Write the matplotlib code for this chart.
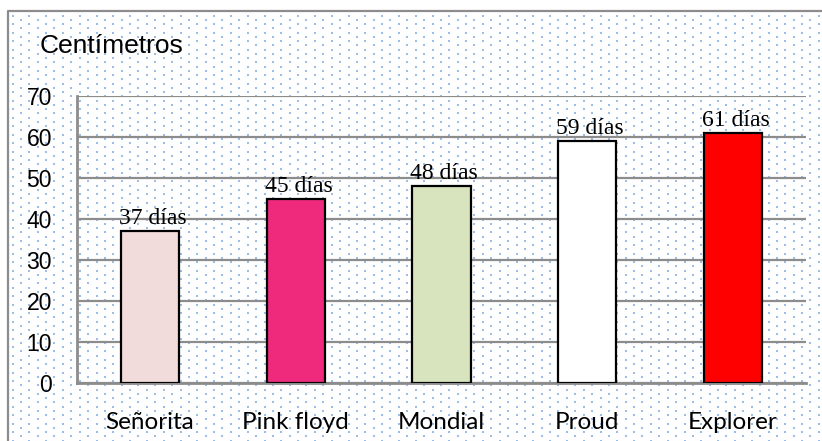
import matplotlib
matplotlib.use('Agg')
import matplotlib.pyplot as plt
import numpy as np

# datos del grafico
variedades = ['Señorita', 'Pink floyd', 'Mondial', 'Proud', 'Explorer']
altura_cm = [37, 45, 48, 59, 61]
dias = ['37 días', '45 días', '48 días', '59 días', '61 días']
colores = ['#f2dcdb', '#ef2a7d', '#d7e4bd', '#ffffff', '#ff0000']
y_ticks = [0, 10, 20, 30, 40, 50, 60, 70]

W, H = 822, 441
fig = plt.figure(figsize=(W / 100, H / 100), dpi=100)

# fondo punteado con marco, en coordenadas de pixel
bg = fig.add_axes([0, 0, 1, 1], zorder=0)
bg.set_xlim(0, W)
bg.set_ylim(H, 0)
bg.axis('off')
filas = np.arange(15.5, H, 4.25)
px, py = [], []
for i, yy in enumerate(filas):
    x0 = 12.5 if i % 2 == 0 else 20.8
    xs = np.arange(x0, W, 16.8)
    px.extend(xs)
    py.extend([yy] * len(xs))
bg.scatter(px, py, s=2.6, marker='s', color='#9bbde8', linewidths=0)
bg.plot([8, 8, W], [H, 11, 11], color='#8c8c8c', lw=1.6, solid_capstyle='butt')

# area del grafico
ax = fig.add_axes([77 / W, 1 - 383 / H, (806 - 77) / W, (383 - 96) / H], zorder=1)
ax.patch.set_alpha(0)
x = np.arange(len(variedades))
ax.bar(x, altura_cm, width=0.4, color=colores, edgecolor='black', linewidth=1.6, zorder=3)
ax.set_xlim(-0.5, len(variedades) - 0.5)
ax.set_ylim(0, 70)
ax.set_yticks(y_ticks)
ax.yaxis.grid(True, color='#8c8c8c', lw=1.6, zorder=1)
ax.set_axisbelow(True)

for s in ['top', 'right']:
    ax.spines[s].set_visible(False)
for s in ['left', 'bottom']:
    ax.spines[s].set_color('#8c8c8c')
    ax.spines[s].set_linewidth(2)

ax.tick_params(axis='both', length=0)
ax.tick_params(axis='y', pad=18)
ax.tick_params(axis='x', pad=21)
ax.set_yticklabels([str(v) for v in y_ticks], family='Liberation Sans', fontsize=16.5)
ax.set_xticks(x)
ax.set_xticklabels(variedades, family='Lato', fontsize=17.5)

for xi, h, txt in zip(x, altura_cm, dias):
    ax.annotate(txt, (xi, h), xytext=(2, 5), textcoords='offset points',
                ha='center', va='baseline', family='Liberation Serif', fontsize=17, zorder=4)

fig.text(40 / W, 1 - 46 / H, 'Centímetros', family='Liberation Sans', fontsize=19,
         va='center', ha='left')

fig.savefig('out.png', dpi=100)
